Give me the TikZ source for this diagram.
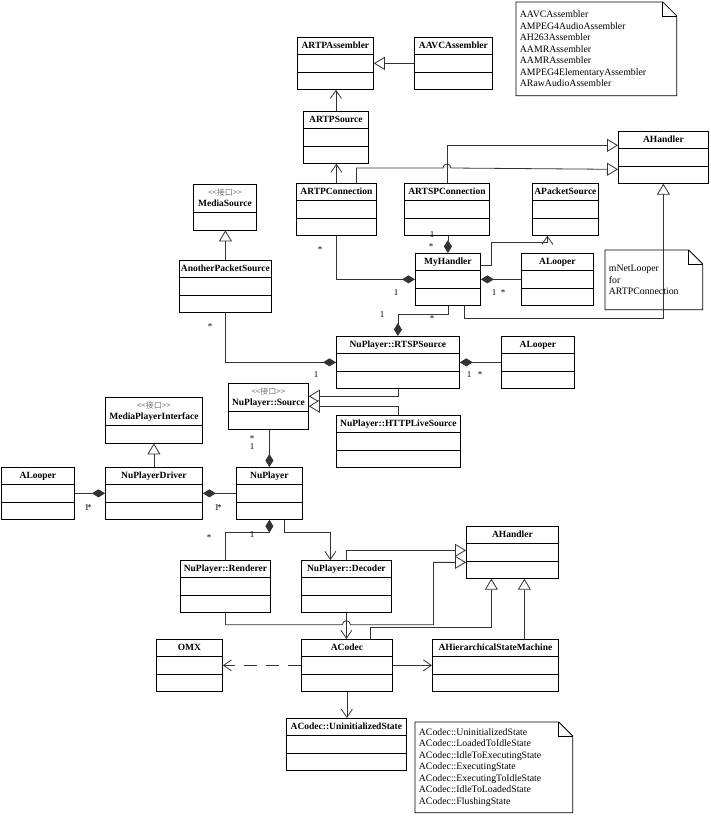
\documentclass[tikz,border=0pt]{standalone}
\usepackage{fontspec}
\setmainfont{Liberation Serif}
\newfontfamily\cjk{Noto Sans CJK SC}
\usetikzlibrary{arrows.meta,shapes.multipart}

% empty compartments of a class box
\newcommand{\ecomp}{\nodepart{second}\strut\nodepart{third}\strut}
% interface box: stereotype line, name, one compartment
\newcommand{\iface}[1]{{\cjk\mdseries\fontsize{8}{9}\selectfont\color{black!55}<\kern0pt<接口>\kern0pt>}\\#1\strut\nodepart{second}\strut}

\begin{document}
\begin{tikzpicture}[x=1pt,y=1pt,line width=0.8pt,
 cls/.style={draw,fill=white,rectangle split,rectangle split parts=3,anchor=north west,
  inner xsep=1pt,inner ysep=2.75pt,align=center,
  font=\fontsize{9.5}{11}\selectfont\bfseries,execute at begin node=\strut},
 icls/.style={cls,rectangle split parts=2},
 note/.style={anchor=north west,align=left,inner xsep=3.5pt,inner ysep=0pt,
  font=\fontsize{9.8}{11.5}\selectfont},
 mult/.style={font=\fontsize{9}{10}\selectfont,inner sep=0pt},
 inh/.style={draw=black!80,-{Triangle[open,length=11pt,width=13pt,fill=white]}},
 assoc/.style={draw=black!80,-{Straight Barb[length=8pt,width=11pt]}},
 comp/.style={draw=black!80,{Diamond[length=13pt,width=8pt]}-}]
\useasboundingbox (0,0) rectangle (711,-818);

% classes
\node[cls,text width=74pt] (artpasm) at (297,-37) {ARTPAssembler\ecomp};
\node[cls,text width=76pt] (aavcasm) at (414,-37) {AAVCAssembler\ecomp};
\node[cls,text width=63pt] (artpsrc) at (303,-111) {ARTPSource\ecomp};
\node[cls,text width=88pt] (ahandlerA) at (618,-131) {AHandler\ecomp};
\node[cls,text width=78pt] (artpconn) at (296,-183) {ARTPConnection\ecomp};
\node[cls,text width=83pt] (artspconn) at (404,-183) {ARTSPConnection\ecomp};
\node[cls,text width=64pt] (apktsrc) at (532,-183) {APacketSource\ecomp};
\node[icls,text width=61pt] (mediasrc) at (193,-184) {\iface{MediaSource}};
\node[cls,text width=90pt] (anotherps) at (179,-260) {AnotherPacketSource\ecomp};
\node[cls,text width=63pt] (myhandler) at (415,-253) {MyHandler\ecomp};
\node[cls,text width=70pt] (alooperA) at (521,-253) {ALooper\ecomp};
\node[cls,text width=121pt] (rtspsrc) at (336,-336) {NuPlayer::RTSPSource\ecomp};
\node[cls,text width=71pt] (alooperB) at (501,-336) {ALooper\ecomp};
\node[icls,text width=78pt] (nusource) at (228,-383) {\iface{NuPlayer::Source}};
\node[cls,text width=122pt] (httplive) at (336,-415) {NuPlayer::HTTPLiveSource\ecomp};
\node[icls,text width=95pt] (mpi) at (105,-397) {\iface{MediaPlayerInterface}};
\node[cls,text width=71pt] (alooperC) at (1,-467) {ALooper\ecomp};
\node[cls,text width=95pt] (nudriver) at (105,-467) {NuPlayerDriver\ecomp};
\node[cls,text width=64pt] (nuplayer) at (236,-467) {NuPlayer\ecomp};
\node[cls,text width=88pt] (renderer) at (180,-560) {NuPlayer::Renderer\ecomp};
\node[cls,text width=88pt] (decoder) at (301,-560) {NuPlayer::Decoder\ecomp};
\node[cls,text width=90pt] (ahandlerB) at (466,-526) {AHandler\ecomp};
\node[cls,text width=64pt] (omx) at (156,-639) {OMX\ecomp};
\node[cls,text width=89pt] (acodec) at (301,-639) {ACodec\ecomp};
\node[cls,text width=124pt] (ahsm) at (432,-639) {AHierarchicalStateMachine\ecomp};
\node[cls,text width=118pt] (uninit) at (286,-718) {ACodec::UninitializedState\ecomp};

% notes
\node[note,text width=153pt,minimum height=93pt] (noteA) at (516,-2) {AAVCAssembler\\AMPEG4AudioAssembler\\AH263Assembler\\AAMRAssembler\\AAMRAssembler\\AMPEG4ElementaryAssembler\\ARawAudioAssembler};
\node[note,text width=90pt,minimum height=59pt] (noteB) at (605,-250) {mNetLooper\\for\\ARTPConnection};
\node[note,text width=150pt,minimum height=90pt] (noteC) at (415,-722) {ACodec::UninitializedState\\ACodec::LoadedToIdleState\\ACodec::IdleToExecutingState\\ACodec::ExecutingState\\ACodec::ExecutingToIdleState\\ACodec::IdleToLoadedState\\ACodec::FlushingState};
\foreach \n in {noteA,noteB,noteC}{
 \draw (\n.north west) -- ([xshift=-14pt]\n.north east) -- ([yshift=-14pt]\n.north east) -- (\n.south east) -- (\n.south west) -- cycle;
 \draw ([xshift=-14pt]\n.north east) |- ([yshift=-14pt]\n.north east);
}

% line crossings
\coordinate (hopA) at ([yshift=15pt]artspconn.north);
\coordinate (hopB) at ([yshift=-12pt]decoder.south);

% generalisation
\draw[inh] (aavcasm.west) -- (artpasm.east);
\draw[inh] (anotherps.north) -- (anotherps.north |- mediasrc.south);
\draw[inh] (artspconn.north) |- ([yshift=12pt]ahandlerA.west);
\draw[inh] ([xshift=20pt]artpconn.north) |- ([xshift=-4pt]hopA) arc[start angle=180,end angle=0,radius=4pt] -- ([yshift=-12pt]ahandlerA.west);
\draw[inh] ([xshift=16pt]myhandler.south) -- ++(0,-13pt) -| (ahandlerA.south);
\draw[inh] (rtspsrc.south) |- ([yshift=10pt]nusource.east);
\draw[inh] (httplive.north) |- (nusource.east);
\draw[inh] (nudriver.north) -- (nudriver.north |- mpi.south);
\draw[inh] (decoder.north) |- ([yshift=2pt]ahandlerB.west);
\draw[inh] (renderer.south) |- ([xshift=-4pt]hopB) arc[start angle=180,end angle=0,radius=4pt] -- ([xshift=87pt]hopB) |- ([yshift=-10pt]ahandlerB.west);
\draw[inh] ([xshift=23pt]acodec.north) -- ++(0,12pt) -| ([xshift=-21pt]ahandlerB.south);
\draw[inh] ([xshift=29pt]ahsm.north) -- ([xshift=12pt]ahandlerB.south);

% association
\draw[assoc] (artpsrc.north) -- (artpsrc.north |- artpasm.south);
\draw[assoc] (artpconn.north) -- (artpconn.north |- artpsrc.south);
\draw[assoc] ([yshift=13.5pt]myhandler.east) -- ++(11pt,0) -- ++(0,23pt) -| ([xshift=-18pt]apktsrc.south);
\draw[assoc] ([xshift=15pt]nuplayer.south) -- ++(0,-13pt) -| ([xshift=-16pt]decoder.north);
\draw[assoc] (decoder.south) -- (decoder.south |- acodec.north);
\draw[assoc] (acodec.east) -- (ahsm.west);
\draw[assoc] (acodec.south) -- (acodec.south |- uninit.north);
\draw[assoc,dash pattern=on 13pt off 9pt] (acodec.west) -- (omx.east);

% composition
\draw[comp] (myhandler.west) -| (artpconn.south);
\draw[comp] (myhandler.north) -- (myhandler.north |- artspconn.south);
\draw[comp] (myhandler.east) -- (alooperA.west);
\draw[comp] (rtspsrc.north) -- ++(0,22pt) -| (myhandler.south);
\draw[comp] (rtspsrc.west) -| (anotherps.south);
\draw[comp] (rtspsrc.east) -- (alooperB.west);
\draw[comp] (nuplayer.north) -- (nuplayer.north |- nusource.south);
\draw[comp] (nudriver.west) -- (alooperC.east);
\draw[comp] (nudriver.east) -- (nuplayer.west);
\draw[comp] (nuplayer.south) -- ++(0,-13pt) -| (renderer.north);

% multiplicities
\foreach \x/\y/\t [count=\i] in {320/-250/*, 396/-293/1, 432/-235/1, 431/-247/*,
  494/-293/1, 503/-293/*, 382/-315/1, 432/-319/*, 210/-327/*, 316/-375/1,
  469/-375/1, 480/-375/*, 252/-439/*, 252/-447/1, 88/-508/1\kern-2pt*,
  218/-508/1\kern-2pt*, 209/-538/*, 252/-535/1}
  \node[mult] (m\i) at (\x,\y) {\t};
\end{tikzpicture}
\end{document}
